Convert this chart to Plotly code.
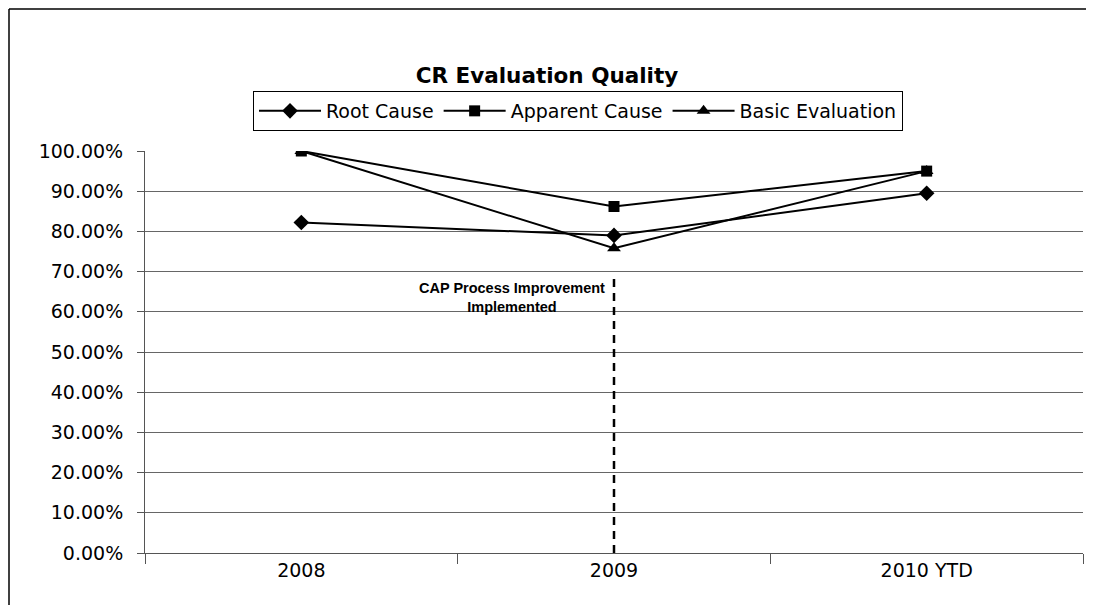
import plotly.graph_objects as go

categories = ["2008", "2009", "2010 YTD"]
root_cause = [0.822, 0.790, 0.895]
apparent_cause = [1.000, 0.862, 0.950]
basic_evaluation = [1.000, 0.758, 0.950]
y_ticks = [0.0, 0.1, 0.2, 0.3, 0.4, 0.5, 0.6, 0.7, 0.8, 0.9, 1.0]
y_tick_labels = ["0.00%", "10.00%", "20.00%", "30.00%", "40.00%", "50.00%",
                 "60.00%", "70.00%", "80.00%", "90.00%", "100.00%"]
cap_line_x = ["2009", "2009"]
cap_line_y = [0.0, 0.69]
cap_text = "CAP Process Improvement<br>Implemented"

# page has an 8px body margin; work in reference (page) pixels and convert
OFF = 8
W, H = 1094 - 2 * OFF, 613 - 2 * OFF
plot_left, plot_right, plot_top, plot_bottom = 145, 1083, 151, 553  # page px
L = plot_left - OFF
R = W - (plot_right - OFF)
T = plot_top - OFF
B = H - (plot_bottom - OFF)
pw = W - L - R
ph = H - T - B

def px_to_paper_x(px):
    return (px - plot_left) / pw

def px_to_paper_y(py):
    return (plot_bottom - py) / ph

TXT = "DejaVu Sans, Arial, sans-serif"

fig = go.Figure()

fig.add_trace(go.Scatter(
    x=categories, y=root_cause, name="Root Cause", mode="lines+markers",
    line=dict(color="black", width=2),
    marker=dict(symbol="diamond", size=12, color="black")))
fig.add_trace(go.Scatter(
    x=categories, y=apparent_cause, name="Apparent Cause", mode="lines+markers",
    line=dict(color="black", width=2),
    marker=dict(symbol="square", size=11, color="black")))
fig.add_trace(go.Scatter(
    x=categories, y=basic_evaluation, name="Basic Evaluation", mode="lines+markers",
    line=dict(color="black", width=2),
    marker=dict(symbol="triangle-up", size=12, color="black")))
fig.add_trace(go.Scatter(
    x=cap_line_x, y=cap_line_y, mode="lines", showlegend=False, hoverinfo="skip",
    line=dict(color="black", width=2.5, dash="8px,6px")))

fig.add_annotation(
    x=1, y=px_to_paper_y(297), xref="x", yref="paper", text="<b>" + cap_text + "</b>",
    showarrow=False, xanchor="right", yanchor="middle", xshift=-7, align="center",
    font=dict(family="Arial, Liberation Sans", size=14.5, color="black"))

# chart border (top and left)
fig.add_shape(type="line", xref="paper", yref="paper",
              x0=px_to_paper_x(OFF + 1), x1=px_to_paper_x(1094), y0=px_to_paper_y(OFF + 1), y1=px_to_paper_y(OFF + 1),
              line=dict(color="black", width=1.5))
fig.add_shape(type="line", xref="paper", yref="paper",
              x0=px_to_paper_x(OFF + 1), x1=px_to_paper_x(OFF + 1), y0=px_to_paper_y(OFF + 1), y1=px_to_paper_y(613),
              line=dict(color="black", width=1.5))

fig.update_layout(
    width=W, height=H,
    margin=dict(l=L, r=R, t=T, b=B),
    paper_bgcolor="white", plot_bgcolor="white",
    font=dict(family=TXT, size=18, color="black"),
    title=dict(text="<b>CR Evaluation Quality</b>",
               x=(547 - OFF) / W, xanchor="center",
               y=1 - (75 - OFF) / H, yanchor="middle", yref="container",
               font=dict(family=TXT, size=21.5, color="black")),
    legend=dict(orientation="h", x=px_to_paper_x(578), xanchor="center",
                y=px_to_paper_y(91), yanchor="top",
                bordercolor="black", borderwidth=1, bgcolor="white",
                font=dict(family=TXT, size=19), itemwidth=62, tracegroupgap=0),
    showlegend=True,
)

fig.update_xaxes(
    type="category", range=[-0.5, 2.5], tickson="boundaries",
    ticks="outside", ticklen=10, tickcolor="#555", showgrid=False,
    showline=True, linecolor="#555", linewidth=1,
    tickfont=dict(family=TXT, size=19), zeroline=False)

fig.update_yaxes(
    range=[0, 1.0], tickvals=y_ticks, ticktext=y_tick_labels,
    ticks="outside", ticklen=7, tickcolor="#555",
    showgrid=True, gridcolor="#666", gridwidth=1,
    showline=True, linecolor="#555", linewidth=1,
    tickfont=dict(family=TXT, size=19), zeroline=False, ticklabelstandoff=10)

fig.write_html("out.html")
